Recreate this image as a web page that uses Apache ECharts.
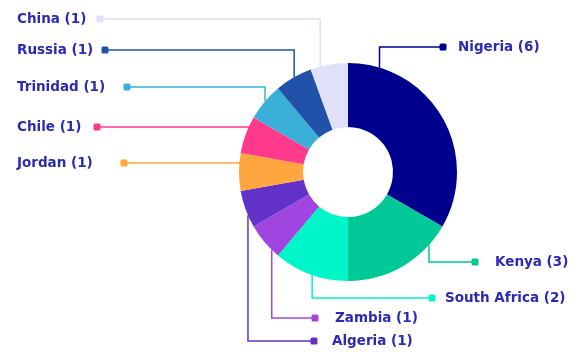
<!DOCTYPE html>
<html>
<head>
<meta charset="utf-8">
<script src="https://cdn.jsdelivr.net/npm/echarts@6/dist/echarts.min.js"></script>
<style>
  html, body { margin: 0; padding: 0; background: #fff; }
  #chart { width: 579px; height: 352px; }
</style>
</head>
<body>
<div id="chart"></div>
<script>
// Countries and how many entries each has
const categories = ['Nigeria', 'Kenya', 'South Africa', 'Zambia', 'Algeria', 'Jordan', 'Chile', 'Trinidad', 'Russia', 'China'];
const counts = [6, 3, 2, 1, 1, 1, 1, 1, 1, 1];
const sliceColors = ['#00008e', '#00c896', '#00f5c8', '#a045e0', '#6232c8', '#ffa63e', '#ff3a8a', '#3ab0d8', '#2152aa', '#e0e0f8'];

// Label placement: side of the chart, text x, row y, marker x, and where
// along each slice (0..1, clockwise) the leader line leaves the ring
const labelSide = ['R', 'R', 'R', 'R', 'R', 'L', 'L', 'L', 'L', 'L'];
const labelTextX = [458, 495, 445, 335, 332, 17, 17, 17, 17, 17];
const labelY = [47, 262, 298, 318, 341, 163, 127, 87, 50, 19];
const markerX = [443, 475, 432, 315, 314, 124, 97, 127, 105, 100];
const anchorFrac = [0.14, 0.2, 0.48, 0.22, 0.33, 0.77, 0.75, 0.52, 0.52, 0.26];

const CENTER = [348, 172];
const R_IN = 45, R_OUT = 109;
const FONT_SIZE = 13.5;
const FONT_FAMILY = '"DejaVu Sans", sans-serif';
const MARK = 7;
const TEXT_COLOR = '#2a2ab4';

const total = counts.reduce((a, b) => a + b, 0);
const labelText = categories.map((c, i) => `${c} (${counts[i]})`);

const measure = document.createElement('canvas').getContext('2d');
measure.font = `bold ${FONT_SIZE}px ${FONT_FAMILY}`;

const data = categories.map((name, i) => {
  const w = measure.measureText(labelText[i]).width;
  const left = labelSide[i] === 'L';
  const gap = left
    ? markerX[i] - MARK / 2 - (labelTextX[i] + w)
    : labelTextX[i] - (markerX[i] + MARK / 2);
  const fmt = left
    ? `{t|${labelText[i]}}{g|}{m|}`
    : `{m|}{g|}{t|${labelText[i]}}`;
  return {
    name,
    value: counts[i],
    itemStyle: { color: sliceColors[i] },
    label: {
      formatter: fmt,
      rich: {
        t: { color: TEXT_COLOR, fontSize: FONT_SIZE, fontWeight: 'bold', fontFamily: FONT_FAMILY },
        g: { width: Math.max(gap, 0) },
        m: { width: MARK, height: MARK, backgroundColor: sliceColors[i], borderRadius: 1.5 }
      }
    },
    labelLine: { lineStyle: { color: sliceColors[i] } }
  };
});

const chart = echarts.init(document.getElementById('chart'), null, { renderer: 'canvas' });

chart.setOption({
  animation: false,
  backgroundColor: '#ffffff',
  series: [{
    type: 'pie',
    center: CENTER,
    radius: [R_IN, R_OUT],
    startAngle: 90,
    clockwise: true,
    avoidLabelOverlap: false,
    minShowLabelAngle: 0,
    emphasis: { disabled: true },
    itemStyle: { borderWidth: 0 },
    label: { show: true, position: 'outside' },
    labelLine: { show: true, smooth: false, lineStyle: { width: 1.5 } },
    labelLayout: function (p) {
      const i = p.dataIndex;
      const before = counts.slice(0, i).reduce((a, b) => a + b, 0);
      const deg = 90 - (before + anchorFrac[i] * counts[i]) / total * 360;
      const rad = deg * Math.PI / 180;
      const ax = CENTER[0] + R_OUT * Math.cos(rad);
      const ay = CENTER[1] - R_OUT * Math.sin(rad);
      const left = labelSide[i] === 'L';
      const lx = left ? labelTextX[i] : markerX[i] - MARK / 2;
      return {
        x: lx,
        y: labelY[i],
        align: 'left',
        verticalAlign: 'middle',
        labelLinePoints: [[ax, ay], [ax, labelY[i]], [markerX[i], labelY[i]]]
      };
    },
    data
  }]
});
</script>
</body>
</html>
